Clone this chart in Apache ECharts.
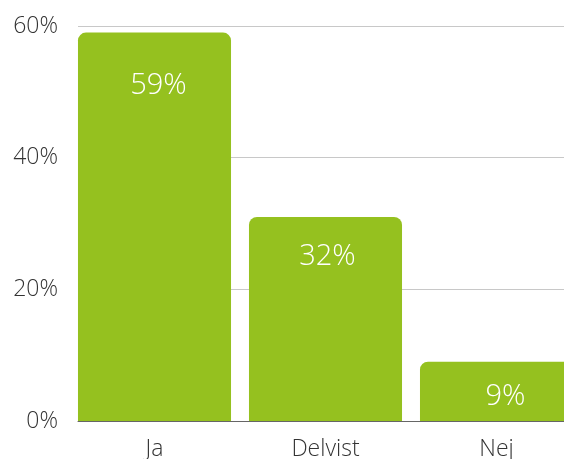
<!DOCTYPE html>
<html>
<head>
<meta charset="utf-8">
<script src="https://cdn.jsdelivr.net/npm/echarts@6/dist/echarts.min.js"></script>
<style>
  html, body { margin: 0; padding: 0; background: #fff; }
  #chart { width: 564px; height: 459px; }
</style>
</head>
<body>
<div id="chart"></div>
<script>
// svar på frågan, andel i procent
const categories = ["Ja", "Delvist", "Nej"];
const values = [59, 31, 9];
const valueLabels = ["59%", "32%", "9%"];
const yTicks = [0, 20, 40, 60];

const barColor = "#95c11f";
const font = "Open Sans";

// label tweaks per bar (distance from bar top, x offset)
const labelPos = [
  { distance: 39, offset: [4, 0] },
  { distance: 25, offset: [2, 0] },
  { distance: 20, offset: [9, 0] },
];

const chart = echarts.init(document.getElementById("chart"));

chart.setOption({
  backgroundColor: "#fff",
  animation: false,
  grid: [
    // lines + y labels (run past the right edge, canvas clips them)
    { left: 78, width: 530, top: 26, bottom: 38, outerBoundsMode: "none" },
    // bars (wider, runs past the right edge)
    { left: 69, width: 513, top: 26, bottom: 38, outerBoundsMode: "none" },
  ],
  xAxis: [
    {
      gridIndex: 0,
      type: "category",
      data: categories,
      axisLine: { show: true, lineStyle: { color: "#666", width: 1 } },
      axisTick: { show: false },
      axisLabel: { show: false },
      z: 5,
    },
    {
      gridIndex: 1,
      type: "category",
      data: categories,
      axisLine: { show: false },
      axisTick: { show: false },
      axisLabel: {
        margin: 17,
        color: "#333",
        fontFamily: font,
        fontWeight: 300,
        fontSize: 23,
      },
    },
  ],
  yAxis: [
    {
      gridIndex: 0,
      type: "value",
      min: yTicks[0],
      max: yTicks[yTicks.length - 1],
      interval: 20,
      axisLine: { show: false },
      axisTick: { show: false },
      splitLine: { lineStyle: { color: "#c8c8c8", width: 1 } },
      axisLabel: {
        margin: 20,
        color: "#333",
        fontFamily: font,
        fontWeight: 300,
        fontSize: 23,
        formatter: (v) => v + "%",
      },
    },
    {
      gridIndex: 1,
      type: "value",
      min: yTicks[0],
      max: yTicks[yTicks.length - 1],
      interval: 20,
      show: false,
      splitLine: { show: false },
    },
  ],
  series: [
    {
      type: "bar",
      xAxisIndex: 1,
      yAxisIndex: 1,
      barCategoryGap: "10.5%",
      itemStyle: { color: barColor, borderRadius: [8, 8, 0, 0] },
      data: values.map((v, i) => ({
        value: v,
        label: {
          show: true,
          position: "insideTop",
          distance: labelPos[i].distance,
          offset: labelPos[i].offset,
          formatter: valueLabels[i],
          color: "#fff",
          fontFamily: font,
          fontWeight: 300,
          fontSize: 29,
        },
      })),
    },
  ],
});
</script>
</body>
</html>
